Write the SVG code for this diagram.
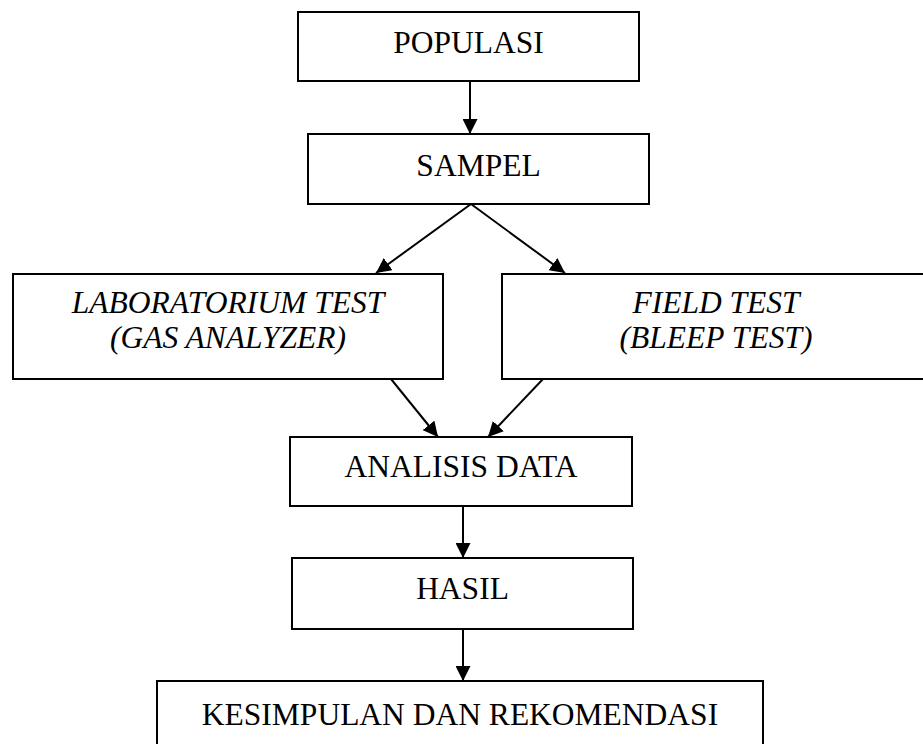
<svg xmlns="http://www.w3.org/2000/svg" width="923" height="744" viewBox="0 0 923 744">
<style>
.box{fill:#fff;stroke:#000;stroke-width:2}
.t{font-family:"Liberation Serif","Times New Roman",serif;font-size:31.5px;fill:#000;text-anchor:middle}
.i{font-style:italic}
.c{stroke:#000;stroke-width:2;fill:none}
</style>
<defs>
<marker id="ah" viewBox="0 0 15 15" refX="15" refY="7.5" markerWidth="15" markerHeight="15" markerUnits="userSpaceOnUse" orient="auto">
<path d="M0,0 L15,7.5 L0,15 z" fill="#000"/>
</marker>
</defs>
<rect width="923" height="744" fill="#fff"/>
<g id="connectors">
<line class="c" x1="470" y1="81" x2="470" y2="134" marker-end="url(#ah)"/>
<line class="c" x1="471" y1="204" x2="376" y2="273" marker-end="url(#ah)"/>
<line class="c" x1="471" y1="204" x2="565" y2="273" marker-end="url(#ah)"/>
<line class="c" x1="391" y1="379" x2="438" y2="437" marker-end="url(#ah)"/>
<line class="c" x1="543" y1="379" x2="488" y2="437" marker-end="url(#ah)"/>
<line class="c" x1="463" y1="506" x2="463" y2="558" marker-end="url(#ah)"/>
<line class="c" x1="463" y1="629" x2="463" y2="681" marker-end="url(#ah)"/>
</g>
<g id="populasi">
<rect class="box" x="298" y="12" width="341" height="69"/>
<text class="t" x="468.5" y="53">POPULASI</text>
</g>
<g id="sampel">
<rect class="box" x="308" y="134" width="341" height="70"/>
<text class="t" x="478.5" y="176">SAMPEL</text>
</g>
<g id="lab">
<rect class="box" x="13" y="274" width="430" height="105"/>
<text class="t i" x="228" y="313">LABORATORIUM TEST</text>
<text class="t i" x="228" y="348">(GAS ANALYZER)</text>
</g>
<g id="field">
<rect class="box" x="502" y="274" width="428" height="105"/>
<text class="t i" x="716" y="313">FIELD TEST</text>
<text class="t i" x="716" y="348">(BLEEP TEST)</text>
</g>
<g id="analisis">
<rect class="box" x="290" y="437" width="342" height="69"/>
<text class="t" x="461" y="477">ANALISIS DATA</text>
</g>
<g id="hasil">
<rect class="box" x="292" y="558" width="341" height="71"/>
<text class="t" x="462.5" y="599">HASIL</text>
</g>
<g id="kesimpulan">
<rect class="box" x="157" y="681" width="606" height="80"/>
<text class="t" x="460" y="725">KESIMPULAN DAN REKOMENDASI</text>
</g>
</svg>
